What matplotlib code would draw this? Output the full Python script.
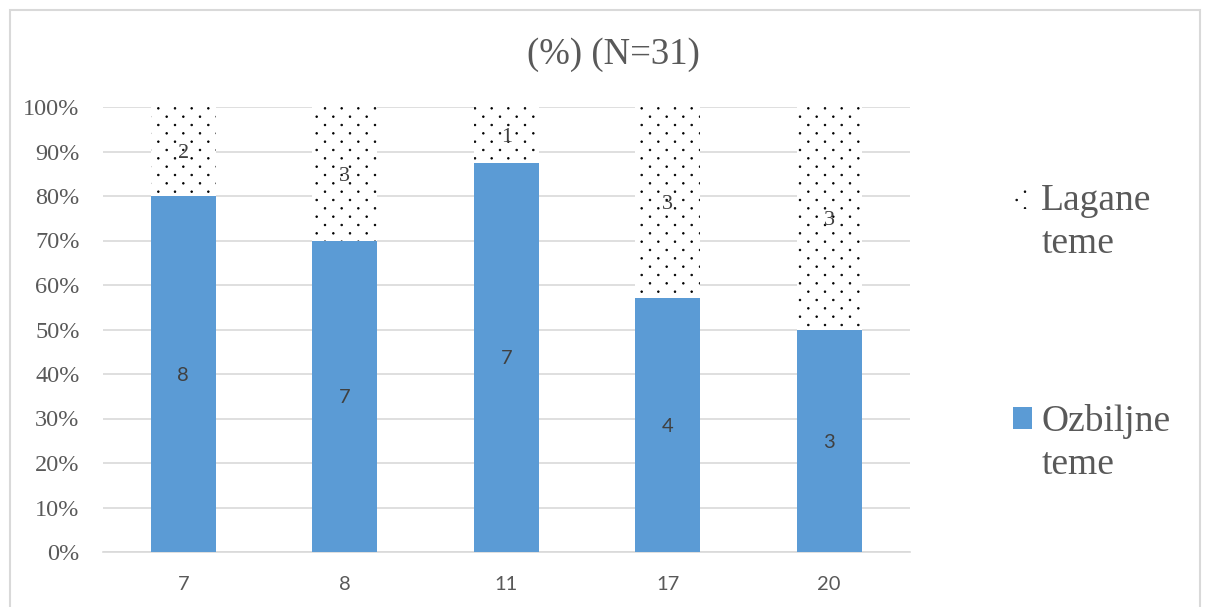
import matplotlib
matplotlib.use("Agg")
import matplotlib.pyplot as plt
import matplotlib.hatch as mhatch
from matplotlib.path import Path
from matplotlib.patches import Rectangle
from matplotlib.legend_handler import HandlerPatch
import numpy as np

categories = ["7", "8", "11", "17", "20"]
ozbiljne = [8, 7, 7, 4, 3]
lagane = [2, 3, 1, 3, 3]
title = "(%) (N=31)"
label_ozb = "Ozbiljne\nteme"
label_lag = "Lagane\nteme"


# sparse staggered dot pattern (Excel "5%" style), replacing the '.' hatch
class SparseDots(mhatch.HatchPatternBase):
    ncol, nrow, radius = 6, 12, 0.008

    def __init__(self, hatch, density):
        circ = Path.unit_circle()
        self.cv, self.cc = circ.vertices, circ.codes
        pts = []
        if '.' in hatch:
            for r in range(self.nrow + 1):
                y = r / self.nrow
                if r % 2 == 0:
                    xs = np.linspace(0, 1, self.ncol + 1)
                else:
                    xs = (np.arange(self.ncol) + 0.5) / self.ncol
                pts += [(xx, y) for xx in xs]
        self.pts = pts
        self.num_vertices = len(pts) * len(self.cv)

    def set_vertices_and_codes(self, vertices, codes):
        n = len(self.cv)
        for i, (px, py) in enumerate(self.pts):
            vertices[i * n:(i + 1) * n] = self.cv * self.radius + [px, py]
            codes[i * n:(i + 1) * n] = self.cc


mhatch._hatch_types = [t for t in mhatch._hatch_types
                       if t is not mhatch.SmallFilledCircles] + [SparseDots]

plt.rcParams['hatch.linewidth'] = 0.6
plt.rcParams['hatch.color'] = 'black'

W, H = 1205, 607
fig = plt.figure(figsize=(W/100, H/100), dpi=100)
serif = "Liberation Serif"
sans = "Lato"
gray = "#595959"

# outer frame
fig.patches.append(Rectangle((10/W, -0.05), (1200-10)/W, 1 - 10/H + 0.05,
                             transform=fig.transFigure, fill=False,
                             edgecolor="#d9d9d9", linewidth=1.5))

ax = fig.add_axes([102.5/W, 1 - 552/H, (910-102.5)/W, (552-107)/H])
oz = np.array(ozbiljne, float)
la = np.array(lagane, float)
tot = oz + la
oz_p = oz / tot * 100
la_p = la / tot * 100
x = np.arange(len(categories))
bw = 0.4

b1 = ax.bar(x, oz_p, bw, color="#5b9bd5", label=label_ozb, zorder=3)
b2 = ax.bar(x, la_p, bw, bottom=oz_p, color="white", edgecolor="black",
            linewidth=0, hatch=".", label=label_lag, zorder=3)

for i in range(len(x)):
    ax.text(x[i], oz_p[i]/2, str(ozbiljne[i]), ha="center",
            va="center_baseline", fontsize=14.5, family=sans,
            color="#404040", zorder=4)
    ax.text(x[i], oz_p[i] + la_p[i]/2, str(lagane[i]), ha="center",
            va="center_baseline", fontsize=16, family=serif,
            color="#404040", zorder=4)

ax.set_xlim(-0.5, len(x) - 0.5)
ax.set_ylim(0, 100)
ax.set_yticks(np.arange(0, 101, 10))
ax.set_yticklabels([f"{v}%" for v in range(0, 101, 10)], family=serif,
                   fontsize=17.5, color=gray)
ax.set_xticks(x)
ax.set_xticklabels(categories, family=sans, fontsize=14.5, color=gray)
ax.tick_params(axis="both", length=0)
ax.tick_params(axis="y", pad=16.5)
ax.tick_params(axis="x", pad=17)
ax.grid(axis="y", color="#d9d9d9", linewidth=1.2, zorder=0)
for s in ["left", "right", "top"]:
    ax.spines[s].set_visible(False)
ax.spines["bottom"].set_color("#d9d9d9")
ax.spines["bottom"].set_linewidth(1.2)
ax.set_axisbelow(True)

fig.text(613/W, 1 - 55/H, title, ha="center", va="center", family=serif,
         fontsize=26.5, color=gray)


def first_line_patch(legend, orig_handle, xdescent, ydescent, width, height,
                     fontsize):
    return Rectangle((-xdescent, -ydescent + 0.66 * fontsize), width, height)


h1, h2 = b1.patches[0], b2.patches[0]
hm = {h1: HandlerPatch(patch_func=first_line_patch),
      h2: HandlerPatch(patch_func=first_line_patch)}
leg = fig.legend([h2, h1], [label_lag, label_ozb], loc="upper left",
                 bbox_to_anchor=(1013/W, 1 - 184/H), frameon=False,
                 prop={"family": serif, "size": 27}, labelcolor=gray,
                 handlelength=0.5, handleheight=0.5, handletextpad=0.25,
                 labelspacing=3.8, borderpad=0, borderaxespad=0,
                 handler_map=hm)
for t in leg.get_texts():
    t.set_linespacing(1.32)

fig.savefig("out.png", dpi=100)
